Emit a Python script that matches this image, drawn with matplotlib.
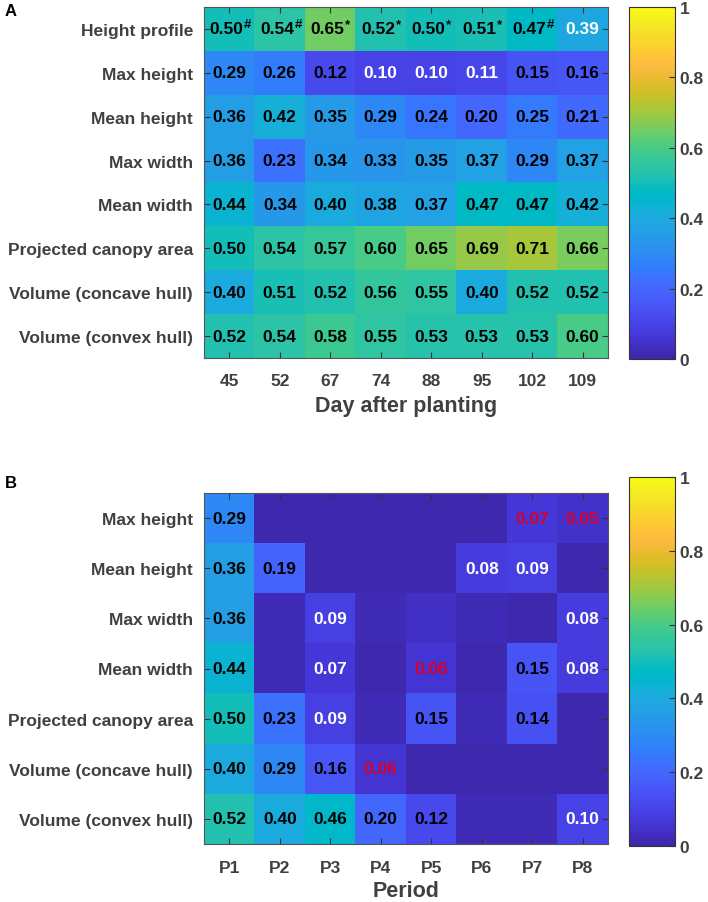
import numpy as np
import matplotlib
matplotlib.use('Agg')
import matplotlib.pyplot as plt
from matplotlib.colors import LinearSegmentedColormap

plt.rcParams['font.family'] = ['Liberation Sans', 'DejaVu Sans']
plt.rcParams['font.weight'] = 'bold'

# ---------------- data ----------------
top_rows = ['Height profile', 'Max height', 'Mean height', 'Max width', 'Mean width',
            'Projected canopy area', 'Volume (concave hull)', 'Volume (convex hull)']
top_cols = ['45', '52', '67', '74', '88', '95', '102', '109']
top_vals = [
    [0.50, 0.54, 0.65, 0.52, 0.50, 0.51, 0.47, 0.39],
    [0.29, 0.26, 0.12, 0.10, 0.10, 0.11, 0.15, 0.16],
    [0.36, 0.42, 0.35, 0.29, 0.24, 0.20, 0.25, 0.21],
    [0.36, 0.23, 0.34, 0.33, 0.35, 0.37, 0.29, 0.37],
    [0.44, 0.34, 0.40, 0.38, 0.37, 0.47, 0.47, 0.42],
    [0.50, 0.54, 0.57, 0.60, 0.65, 0.69, 0.71, 0.66],
    [0.40, 0.51, 0.52, 0.56, 0.55, 0.40, 0.52, 0.52],
    [0.52, 0.54, 0.58, 0.55, 0.53, 0.53, 0.53, 0.60],
]
top_sup = ['#', '#', '*', '*', '*', '*', '#', '']  # superscripts on the first row
top_textcol = [
    ['k', 'k', 'k', 'k', 'k', 'k', 'k', 'w'],
    ['k', 'k', 'k', 'w', 'w', 'w', 'k', 'k'],
    ['k'] * 8, ['k'] * 8, ['k'] * 8, ['k'] * 8, ['k'] * 8, ['k'] * 8,
]

bot_rows = ['Max height', 'Mean height', 'Max width', 'Mean width',
            'Projected canopy area', 'Volume (concave hull)', 'Volume (convex hull)']
bot_cols = ['P1', 'P2', 'P3', 'P4', 'P5', 'P6', 'P7', 'P8']
bot_vals = [
    [0.29, 0.01, 0.01, 0.01, 0.01, 0.01, 0.07, 0.05],
    [0.36, 0.19, 0.01, 0.01, 0.01, 0.08, 0.09, 0.01],
    [0.36, 0.02, 0.09, 0.02, 0.04, 0.02, 0.01, 0.08],
    [0.44, 0.02, 0.07, 0.01, 0.06, 0.01, 0.15, 0.08],
    [0.50, 0.23, 0.09, 0.02, 0.15, 0.02, 0.14, 0.01],
    [0.40, 0.29, 0.16, 0.06, 0.01, 0.01, 0.01, 0.01],
    [0.52, 0.40, 0.46, 0.20, 0.12, 0.02, 0.02, 0.10],
]
bot_labels = [
    ['0.29', '', '', '', '', '', '0.07', '0.05'],
    ['0.36', '0.19', '', '', '', '0.08', '0.09', ''],
    ['0.36', '', '0.09', '', '', '', '', '0.08'],
    ['0.44', '', '0.07', '', '0.06', '', '0.15', '0.08'],
    ['0.50', '0.23', '0.09', '', '0.15', '', '0.14', ''],
    ['0.40', '0.29', '0.16', '0.06', '', '', '', ''],
    ['0.52', '0.40', '0.46', '0.20', '0.12', '', '', '0.10'],
]
bot_textcol = [
    ['k', '', '', '', '', '', 'r', 'r'],
    ['k', 'k', '', '', '', 'w', 'w', ''],
    ['k', '', 'w', '', '', '', '', 'w'],
    ['k', '', 'w', '', 'r', '', 'k', 'w'],
    ['k', 'k', 'w', '', 'k', '', 'k', ''],
    ['k', 'k', 'k', 'r', '', '', '', ''],
    ['k', 'k', 'k', 'k', 'k', '', '', 'w'],
]

# ---------------- parula colormap ----------------
parula_list = [
    [0.2422, 0.1504, 0.6603], [0.2504, 0.1650, 0.7076], [0.2578, 0.1818, 0.7511],
    [0.2647, 0.1978, 0.7952], [0.2706, 0.2147, 0.8364], [0.2751, 0.2342, 0.8710],
    [0.2783, 0.2559, 0.8991], [0.2803, 0.2782, 0.9221], [0.2813, 0.3006, 0.9414],
    [0.2810, 0.3228, 0.9579], [0.2795, 0.3447, 0.9717], [0.2760, 0.3667, 0.9829],
    [0.2699, 0.3892, 0.9906], [0.2602, 0.4123, 0.9952], [0.2440, 0.4358, 0.9988],
    [0.2206, 0.4603, 0.9973], [0.1963, 0.4847, 0.9892], [0.1834, 0.5074, 0.9798],
    [0.1786, 0.5289, 0.9682], [0.1764, 0.5499, 0.9520], [0.1687, 0.5703, 0.9359],
    [0.1540, 0.5902, 0.9218], [0.1460, 0.6091, 0.9079], [0.1380, 0.6276, 0.8973],
    [0.1248, 0.6459, 0.8883], [0.1113, 0.6635, 0.8763], [0.0952, 0.6798, 0.8598],
    [0.0689, 0.6948, 0.8394], [0.0297, 0.7082, 0.8163], [0.0036, 0.7203, 0.7917],
    [0.0067, 0.7312, 0.7660], [0.0433, 0.7411, 0.7394], [0.0964, 0.7500, 0.7120],
    [0.1408, 0.7584, 0.6842], [0.1717, 0.7670, 0.6554], [0.1938, 0.7758, 0.6251],
    [0.2161, 0.7843, 0.5923], [0.2470, 0.7918, 0.5567], [0.2906, 0.7973, 0.5188],
    [0.3406, 0.8008, 0.4789], [0.3909, 0.8029, 0.4354], [0.4456, 0.8024, 0.3909],
    [0.5044, 0.7993, 0.3480], [0.5616, 0.7942, 0.3045], [0.6174, 0.7876, 0.2612],
    [0.6720, 0.7793, 0.2227], [0.7242, 0.7698, 0.1910], [0.7738, 0.7598, 0.1646],
    [0.8203, 0.7498, 0.1535], [0.8634, 0.7406, 0.1596], [0.9035, 0.7330, 0.1774],
    [0.9393, 0.7288, 0.2100], [0.9728, 0.7298, 0.2394], [0.9956, 0.7434, 0.2371],
    [0.9970, 0.7659, 0.2199], [0.9952, 0.7893, 0.2028], [0.9892, 0.8136, 0.1885],
    [0.9786, 0.8386, 0.1766], [0.9676, 0.8639, 0.1643], [0.9610, 0.8890, 0.1537],
    [0.9597, 0.9135, 0.1423], [0.9628, 0.9373, 0.1265], [0.9691, 0.9606, 0.1064],
    [0.9769, 0.9839, 0.0805],
]
parula = LinearSegmentedColormap.from_list('parula', parula_list, N=256)

W, H = 708, 903
fig = plt.figure(figsize=(W / 100, H / 100), dpi=100)

label_col = '#404040'
red = '#d8002b'
colmap = {'k': 'black', 'w': 'white', 'r': red}


def px_axes(x0, y0, x1, y1):
    return fig.add_axes([x0 / W, 1 - y1 / H, (x1 - x0) / W, (y1 - y0) / H])


def style_heat(ax, rows, cols, xlabel, xpad, lpad):
    ax.set_xticks(range(len(cols)))
    ax.set_xticklabels(cols, fontsize=12.5, color=label_col, fontweight='bold')
    ax.set_yticks(range(len(rows)))
    ax.set_yticklabels(rows, fontsize=12.5, color=label_col, fontweight='bold')
    ax.tick_params(direction='in', length=4, width=0.8, color='#333333',
                   top=True, right=True)
    ax.tick_params(axis='x', pad=xpad)
    ax.tick_params(axis='y', pad=8)
    ax.set_xlabel(xlabel, fontsize=15.5, color=label_col, fontweight='bold', labelpad=lpad)
    for s in ax.spines.values():
        s.set_color('#555555')
        s.set_linewidth(0.8)


def style_cbar(cb):
    cb.set_ticks([0, 0.2, 0.4, 0.6, 0.8, 1.0])
    cb.set_ticklabels(['0', '0.2', '0.4', '0.6', '0.8', '1'])
    cb.ax.tick_params(direction='in', length=4, width=0.8, labelsize=12.5,
                      labelcolor=label_col, color='#333333', pad=3.5)
    for lab in cb.ax.get_yticklabels():
        lab.set_fontweight('bold')
    cb.outline.set_edgecolor('#333333')
    cb.outline.set_linewidth(0.8)


# ---------------- panel A ----------------
axA = px_axes(204, 8, 608, 359)
tv = np.array(top_vals)
imA = axA.imshow(tv, cmap=parula, vmin=0, vmax=1, aspect='auto', interpolation='nearest')
for i in range(tv.shape[0]):
    for j in range(tv.shape[1]):
        txt = f'{tv[i, j]:.2f}'
        c = colmap[top_textcol[i][j]]
        if i == 0 and top_sup[j]:
            axA.annotate(txt, xy=(j, i), xytext=(-1.9, 0), textcoords='offset points',
                         ha='center', va='center', fontsize=12.5, fontweight='bold', color=c)
            axA.annotate(top_sup[j], xy=(j, i), xytext=(10.8, 3.4), textcoords='offset points',
                         ha='left', va='center', fontsize=9.5, fontweight='bold', color=c)
        else:
            axA.text(j, i, txt, ha='center', va='center', fontsize=12.5,
                     fontweight='bold', color=c)
style_heat(axA, top_rows, top_cols, 'Day after planting', 11, 5)
caxA = px_axes(629, 8, 675, 360)
cbA = fig.colorbar(imA, cax=caxA)
style_cbar(cbA)

# ---------------- panel B ----------------
axB = px_axes(204, 494, 608, 845)
bv = np.array(bot_vals)
imB = axB.imshow(bv, cmap=parula, vmin=0, vmax=1, aspect='auto', interpolation='nearest')
for i in range(bv.shape[0]):
    for j in range(bv.shape[1]):
        if bot_labels[i][j]:
            axB.text(j, i, bot_labels[i][j], ha='center', va='center', fontsize=12.5,
                     fontweight='bold', color=colmap[bot_textcol[i][j]])
style_heat(axB, bot_rows, bot_cols, 'Period', 11.5, 3.5)
caxB = px_axes(629, 478, 675, 847)
cbB = fig.colorbar(imB, cax=caxB)
style_cbar(cbB)

fig.text(5 / W, 1 - 12 / H, 'A', fontsize=12, fontweight='bold', color='black',
         ha='left', va='center')
fig.text(5 / W, 1 - 484 / H, 'B', fontsize=12, fontweight='bold', color='black',
         ha='left', va='center')

fig.savefig('out.png', dpi=100)
